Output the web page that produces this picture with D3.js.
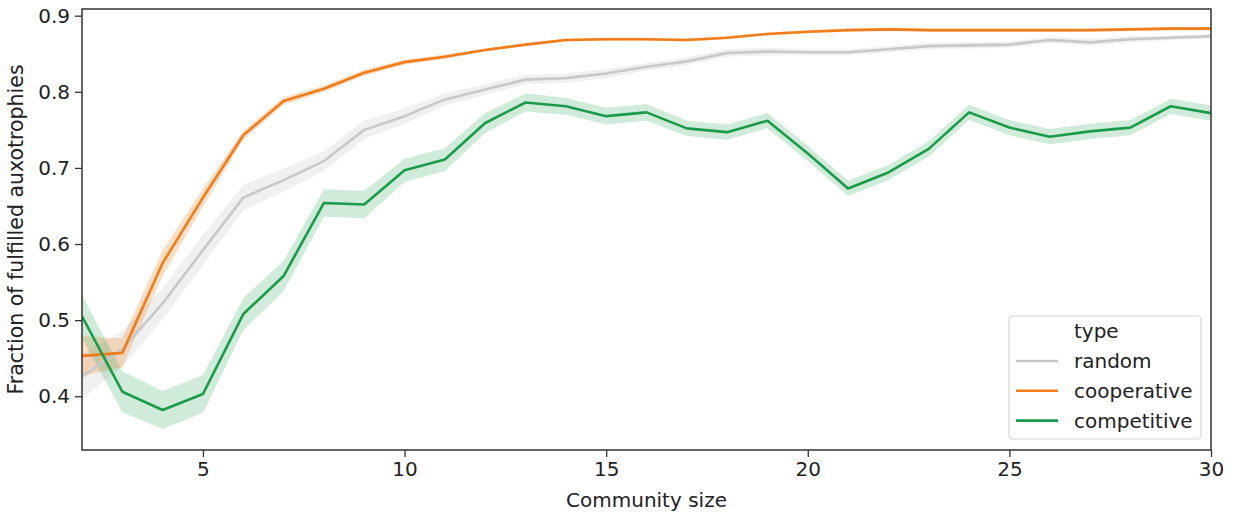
<!DOCTYPE html>
<html>
<head>
<meta charset="utf-8">
<script src="https://cdn.jsdelivr.net/npm/d3@7/dist/d3.min.js"></script>
<style>
  html, body { margin: 0; padding: 0; background: #fff; }
  svg { display: block; font-family: "DejaVu Sans", sans-serif; }
  .tick text { font-size: 20px; fill: #222; }
</style>
</head>
<body>
<svg id="chart" width="1236" height="518"></svg>
<script>
const communitySizes = d3.range(2, 31);
const seriesNames = ["random", "cooperative", "competitive"];
const seriesColors = ["#c8c8c8", "#f07c1b", "#1b9a4b"];

const randomMean = [0.426, 0.462, 0.522, 0.592, 0.661, 0.684, 0.709, 0.750, 0.768, 0.790,
  0.803, 0.816, 0.818, 0.824, 0.833, 0.840, 0.851, 0.853, 0.852, 0.852, 0.856, 0.860,
  0.861, 0.862, 0.868, 0.865, 0.869, 0.871, 0.873];
const randomCi = [0.03, 0.023, 0.021, 0.02, 0.017, 0.015, 0.013, 0.012, 0.01, 0.008,
  0.007, 0.006, 0.006, 0.006, 0.005, 0.005, 0.005, 0.005, 0.004, 0.004, 0.004, 0.004,
  0.004, 0.004, 0.004, 0.004, 0.004, 0.003, 0.003];

const cooperativeMean = [0.453, 0.457, 0.575, 0.661, 0.743, 0.788, 0.804, 0.825, 0.839, 0.846,
  0.855, 0.862, 0.868, 0.869, 0.869, 0.868, 0.871, 0.876, 0.879, 0.881, 0.882, 0.881,
  0.881, 0.881, 0.881, 0.881, 0.882, 0.883, 0.883];
const cooperativeCi = [0.026, 0.019, 0.017, 0.012, 0.006, 0.005, 0.004, 0.004, 0.003, 0.003,
  0.002, 0.002, 0.002, 0.002, 0.002, 0.002, 0.002, 0.002, 0.002, 0.002, 0.002, 0.002,
  0.002, 0.002, 0.002, 0.002, 0.002, 0.002, 0.002];

const competitiveMean = [0.505, 0.406, 0.382, 0.403, 0.508, 0.558, 0.654, 0.652, 0.697, 0.711,
  0.759, 0.786, 0.781, 0.768, 0.773, 0.752, 0.747, 0.762, 0.719, 0.673, 0.694, 0.725,
  0.773, 0.753, 0.741, 0.748, 0.753, 0.781, 0.772];
const competitiveCi = [0.028, 0.027, 0.025, 0.025, 0.021, 0.02, 0.018, 0.018, 0.015, 0.015,
  0.013, 0.012, 0.011, 0.011, 0.011, 0.01, 0.01, 0.01, 0.01, 0.01, 0.01, 0.01,
  0.01, 0.01, 0.01, 0.01, 0.01, 0.01, 0.01];

const xTicks = [5, 10, 15, 20, 25, 30];
const yTicks = [0.4, 0.5, 0.6, 0.7, 0.8, 0.9];

const margin = { left: 82, right: 25, top: 9, bottom: 68 };
const width = 1236;
const height = 518;

const x = d3.scaleLinear().domain([2, 30]).range([margin.left, width - margin.right]);
const y = d3.scaleLinear().domain([0.3294, 0.9088]).range([height - margin.bottom, margin.top]);

const svg = d3.select("#chart");

const series = [
  { name: seriesNames[0], color: seriesColors[0], mean: randomMean, ci: randomCi, bandOpacity: 0.28 },
  { name: seriesNames[1], color: seriesColors[1], mean: cooperativeMean, ci: cooperativeCi, bandOpacity: 0.25 },
  { name: seriesNames[2], color: seriesColors[2], mean: competitiveMean, ci: competitiveCi, bandOpacity: 0.2 }
];

svg.append("clipPath").attr("id", "plot-clip")
  .append("rect")
  .attr("x", margin.left).attr("y", margin.top)
  .attr("width", width - margin.left - margin.right)
  .attr("height", height - margin.top - margin.bottom);

const plot = svg.append("g").attr("clip-path", "url(#plot-clip)");

const area = d3.area()
  .x((d, i) => x(communitySizes[i]))
  .y0((d) => y(d.lo))
  .y1((d) => y(d.hi));
const line = d3.line()
  .x((d, i) => x(communitySizes[i]))
  .y((d) => y(d));

for (const s of series) {
  const band = s.mean.map((m, i) => ({ lo: m - s.ci[i], hi: m + s.ci[i] }));
  plot.append("path")
    .attr("d", area(band))
    .attr("fill", s.color)
    .attr("fill-opacity", s.bandOpacity)
    .attr("stroke", "none");
}

for (const s of series) {
  plot.append("path")
    .attr("d", line(s.mean))
    .attr("fill", "none")
    .attr("stroke", s.color)
    .attr("stroke-width", 2.6)
    .attr("stroke-linejoin", "round");
}

const xAxis = svg.append("g")
  .attr("transform", `translate(0,${height - margin.bottom})`)
  .call(d3.axisBottom(x).tickValues(xTicks).tickSize(7).tickPadding(5).tickFormat(d3.format("d")));
const yAxis = svg.append("g")
  .attr("transform", `translate(${margin.left},0)`)
  .call(d3.axisLeft(y).tickValues(yTicks).tickSize(7).tickPadding(5).tickFormat(d3.format(".1f")));

for (const axis of [xAxis, yAxis]) {
  axis.select(".domain").remove();
  axis.selectAll(".tick line").attr("stroke", "#333").attr("stroke-width", 1.3);
  axis.selectAll(".tick text").attr("font-family", "DejaVu Sans").attr("font-size", 20);
}
xAxis.selectAll(".tick text").attr("dy", "0.71em");

svg.append("rect")
  .attr("x", margin.left).attr("y", margin.top)
  .attr("width", width - margin.left - margin.right)
  .attr("height", height - margin.top - margin.bottom)
  .attr("fill", "none")
  .attr("stroke", "#333")
  .attr("stroke-width", 1.5);

svg.append("text")
  .attr("x", (margin.left + width - margin.right) / 2)
  .attr("y", 507)
  .attr("text-anchor", "middle")
  .attr("font-size", 20)
  .attr("fill", "#222")
  .text("Community size");

svg.append("text")
  .attr("transform", `translate(23,${(margin.top + height - margin.bottom) / 2}) rotate(-90)`)
  .attr("text-anchor", "middle")
  .attr("font-size", 20.5)
  .attr("fill", "#222")
  .text("Fraction of fulfilled auxotrophies");

// legend
const legend = svg.append("g").attr("transform", "translate(1009,316)");
legend.append("rect")
  .attr("width", 192).attr("height", 123)
  .attr("rx", 4)
  .attr("fill", "#fff")
  .attr("fill-opacity", 0.8)
  .attr("stroke", "#d6d6d6")
  .attr("stroke-width", 1.2);
legend.append("text")
  .attr("x", 65).attr("y", 22)
  .attr("font-size", 20)
  .attr("fill", "#222")
  .text("type");
series.forEach((s, i) => {
  const cy = 45 + i * 29.8;
  legend.append("line")
    .attr("x1", 7).attr("x2", 49)
    .attr("y1", cy).attr("y2", cy)
    .attr("stroke", s.color)
    .attr("stroke-width", 2.6);
  legend.append("text")
    .attr("x", 65).attr("y", cy)
    .attr("dy", "0.35em")
    .attr("font-size", 20)
    .attr("fill", "#222")
    .text(s.name);
});
</script>
</body>
</html>
